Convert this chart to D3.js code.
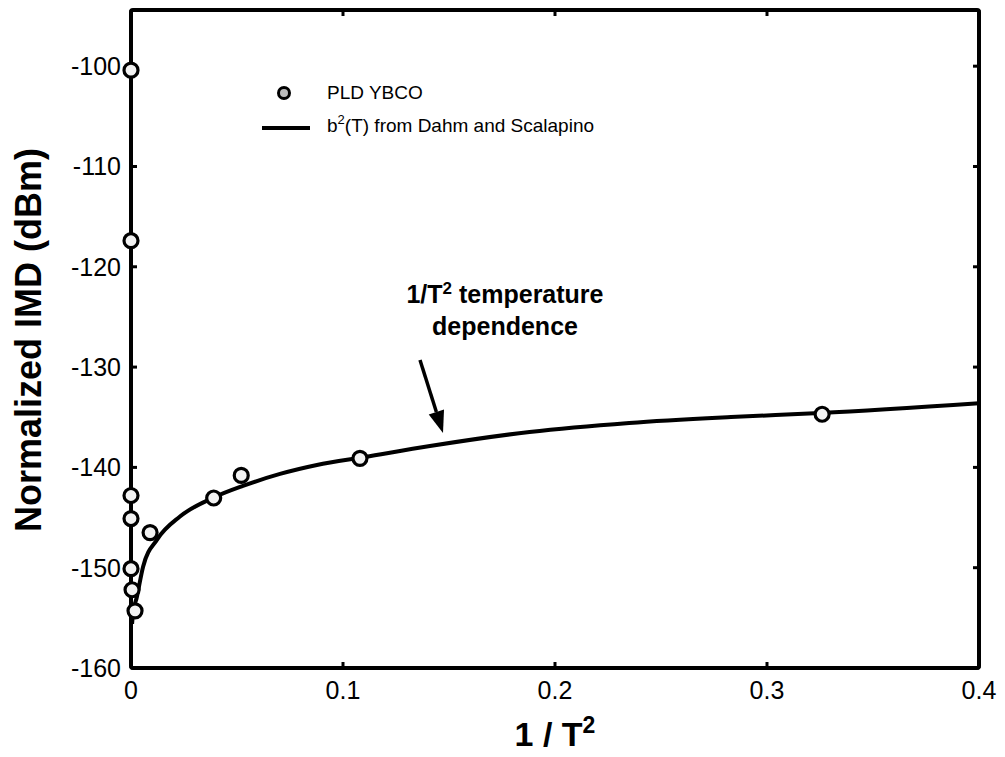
<!DOCTYPE html>
<html>
<head>
<meta charset="utf-8">
<script src="https://cdn.jsdelivr.net/npm/d3@7"></script>
<style>
  body { margin: 0; background: #fff; }
  svg { font-family: "Liberation Sans", Arial, Helvetica, sans-serif; }
</style>
</head>
<body>
<div id="chart"></div>
<script>
// measured points (1/T^2, IMD in dBm)
const pointX = [0, 0, 0, 0, 0, 0.0005, 0.0019, 0.009, 0.039, 0.052, 0.108, 0.326]
const pointY = [-100.4, -117.4, -142.8, -145.1, -150.1, -152.2, -154.3, -146.5, -143.05, -140.8, -139.1, -134.7]

// b^2(T) curve
const curveX = [0.0005, 0.0009, 0.0028, 0.0057, 0.0123, 0.0231, 0.0396, 0.0528, 0.0703, 0.0877, 0.1104, 0.141, 0.188, 0.235, 0.283, 0.325, 0.4]
const curveY = [-155.6, -154.7, -152.9, -149.9, -147.2, -144.9, -142.95, -141.85, -140.65, -139.76, -138.96, -137.87, -136.47, -135.57, -134.98, -134.58, -133.6]

const xTicks = [0, 0.1, 0.2, 0.3, 0.4]
const yTicks = [-160, -150, -140, -130, -120, -110, -100]
const legendLabels = ['PLD YBCO', 'from Dahm and Scalapino']

const W = 1005, H = 757
const plotL = 131, plotR = 979, plotT = 10, plotB = 668

const x = d3.scaleLinear().domain([0, 0.4]).range([plotL, plotR])
const y = d3.scaleLinear().domain([-160, -94.4]).range([plotB, plotT])

const svg = d3.select('#chart').append('svg')
    .attr('width', W)
    .attr('height', H)

// ticks, inward on all four sides
const tickLen = 6
const g = svg.append('g')
xTicks.forEach(t => {
  g.append('line').attr('x1', x(t)).attr('x2', x(t)).attr('y1', plotB).attr('y2', plotB - tickLen)
  g.append('line').attr('x1', x(t)).attr('x2', x(t)).attr('y1', plotT).attr('y2', plotT + tickLen)
})
yTicks.forEach(t => {
  g.append('line').attr('x1', plotL).attr('x2', plotL + tickLen).attr('y1', y(t)).attr('y2', y(t))
  g.append('line').attr('x1', plotR).attr('x2', plotR - tickLen).attr('y1', y(t)).attr('y2', y(t))
})
g.selectAll('line').attr('stroke', '#000').attr('stroke-width', 3)

svg.append('g').selectAll('text').data(xTicks).join('text')
    .attr('x', d => x(d))
    .attr('y', 699)
    .attr('text-anchor', 'middle')
    .attr('font-size', 25)
    .text(d => d3.format('~g')(d))

svg.append('g').selectAll('text').data(yTicks).join('text')
    .attr('x', 121)
    .attr('y', d => y(d) + 9)
    .attr('text-anchor', 'end')
    .attr('font-size', 25)
    .text(d => d)

// curve
const line = d3.line()
    .x(d => x(d[0]))
    .y(d => y(d[1]))
    .curve(d3.curveMonotoneX)

svg.append('path')
    .datum(d3.zip(curveX, curveY))
    .attr('d', line)
    .attr('fill', 'none')
    .attr('stroke', '#000')
    .attr('stroke-width', 4)

// frame
svg.append('rect')
    .attr('x', plotL).attr('y', plotT)
    .attr('width', plotR - plotL).attr('height', plotB - plotT)
    .attr('rx', 2)
    .attr('fill', 'none')
    .attr('stroke', '#000')
    .attr('stroke-width', 4)

// data markers
svg.append('g').selectAll('circle').data(d3.zip(pointX, pointY)).join('circle')
    .attr('cx', d => x(d[0]))
    .attr('cy', d => y(d[1]))
    .attr('r', 7)
    .attr('fill', '#f2f2f2')
    .attr('stroke', '#000')
    .attr('stroke-width', 3.2)

// legend
const leg = svg.append('g')
leg.append('circle')
    .attr('cx', 284).attr('cy', 93).attr('r', 5.5)
    .attr('fill', '#bbb').attr('stroke', '#000').attr('stroke-width', 3)
leg.append('text')
    .attr('x', 327).attr('y', 99)
    .attr('font-size', 19)
    .text(legendLabels[0])
leg.append('line')
    .attr('x1', 262).attr('x2', 310).attr('y1', 128).attr('y2', 128)
    .attr('stroke', '#000').attr('stroke-width', 4)
const lt = leg.append('text')
    .attr('x', 327).attr('y', 132)
    .attr('font-size', 19)
lt.append('tspan').text('b')
lt.append('tspan').attr('dy', -8).attr('font-size', 13).text('2')
lt.append('tspan').attr('dy', 8).text('(T) ' + legendLabels[1])

// annotation
const ann = svg.append('text')
    .attr('x', 505).attr('y', 303)
    .attr('text-anchor', 'middle')
    .attr('font-size', 25)
    .attr('font-weight', 'bold')
ann.append('tspan').text('1/T')
ann.append('tspan').attr('dy', -9).attr('font-size', 17).text('2')
ann.append('tspan').attr('dy', 9).text(' temperature')
svg.append('text')
    .attr('x', 505).attr('y', 335)
    .attr('text-anchor', 'middle')
    .attr('font-size', 25)
    .attr('font-weight', 'bold')
    .text('dependence')

// arrow
const ax0 = 420, ay0 = 360, ax1 = 443, ay1 = 433
const ang = Math.atan2(ay1 - ay0, ax1 - ax0)
const headL = 22, headW = 8
const bx = ax1 - headL * Math.cos(ang), by = ay1 - headL * Math.sin(ang)
svg.append('line')
    .attr('x1', ax0).attr('y1', ay0).attr('x2', bx).attr('y2', by)
    .attr('stroke', '#000').attr('stroke-width', 3.5)
svg.append('path')
    .attr('d', `M${ax1},${ay1} L${bx + headW * Math.sin(ang)},${by - headW * Math.cos(ang)} L${bx - headW * Math.sin(ang)},${by + headW * Math.cos(ang)} Z`)
    .attr('fill', '#000')

// axis titles
const xt = svg.append('text')
    .attr('x', 555).attr('y', 746)
    .attr('text-anchor', 'middle')
    .attr('font-size', 34)
    .attr('font-weight', 'bold')
xt.append('tspan').text('1 / T')
xt.append('tspan').attr('dy', -13).attr('font-size', 23).text('2')

svg.append('text')
    .attr('transform', 'translate(41,340) rotate(-90)')
    .attr('text-anchor', 'middle')
    .attr('font-size', 36)
    .attr('font-weight', 'bold')
    .text('Normalized IMD (dBm)')
</script>
</body>
</html>
